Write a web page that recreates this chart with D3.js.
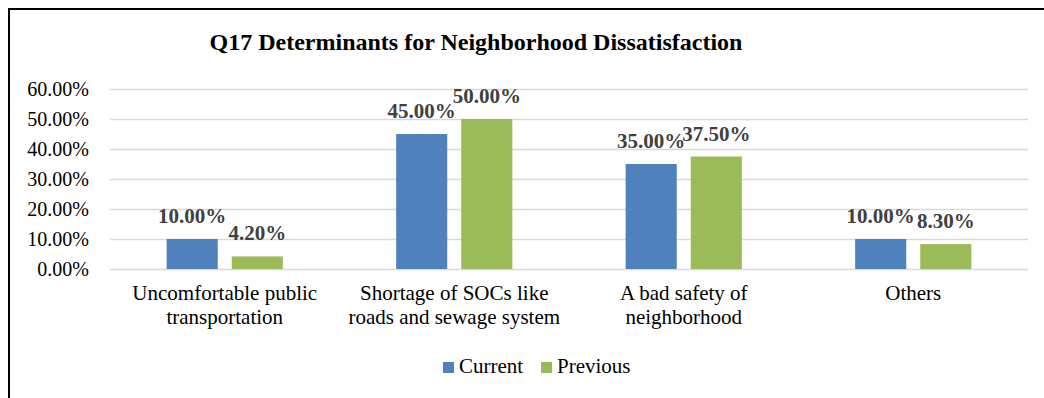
<!DOCTYPE html>
<html>
<head>
<meta charset="utf-8">
<script src="https://cdn.jsdelivr.net/npm/d3@7"></script>
<style>
  body { margin: 0; background: #fff; }
  svg text { font-family: "Liberation Serif", "Times New Roman", serif; }
</style>
</head>
<body>
<svg id="chart" width="1044" height="398"></svg>
<script>
const categories = [
  ["Uncomfortable public", "transportation"],
  ["Shortage of SOCs like", "roads and sewage system"],
  ["A bad safety of", "neighborhood"],
  ["Others"]
];
const seriesNames = ["Current", "Previous"];
const currentValues = [0.10, 0.45, 0.35, 0.10];
const previousValues = [0.042, 0.50, 0.375, 0.083];
const yTicks = [0, 0.1, 0.2, 0.3, 0.4, 0.5, 0.6];
const colors = { Current: "#4f81bd", Previous: "#9bbb59" };

const svg = d3.select("#chart");

// frame (only top and left edges are visible in the crop)
svg.append("line").attr("x1", 9).attr("x2", 1044).attr("y1", 9).attr("y2", 9)
  .attr("stroke", "#000").attr("stroke-width", 2);
svg.append("line").attr("x1", 9).attr("x2", 9).attr("y1", 8).attr("y2", 398)
  .attr("stroke", "#000").attr("stroke-width", 2);

const plot = { left: 110, right: 1028, top: 89, bottom: 269 };

const catIdx = categories.map((d, i) => i);
const x0 = d3.scaleBand().domain(catIdx).range([plot.left, plot.right]);
const x1 = d3.scaleBand().domain(seriesNames).range([0, x0.bandwidth()])
  .paddingInner(0.215).paddingOuter(0.87);
const y = d3.scaleLinear().domain([0, 0.6]).range([plot.bottom, plot.top]);

const fmt = d3.format(".2%");

// gridlines
svg.append("g")
  .selectAll("line")
  .data(yTicks)
  .join("line")
  .attr("x1", plot.left).attr("x2", plot.right)
  .attr("y1", d => Math.round(y(d)) + 0.5).attr("y2", d => Math.round(y(d)) + 0.5)
  .attr("stroke", "#d9d9d9").attr("stroke-width", 1.5);

// y tick labels
svg.append("g")
  .selectAll("text")
  .data(yTicks)
  .join("text")
  .attr("x", 89)
  .attr("y", d => y(d))
  .attr("dy", "0.35em")
  .attr("text-anchor", "end")
  .attr("font-size", 20)
  .attr("fill", "#000")
  .text(d => fmt(d));

// title
svg.append("text")
  .attr("x", 476).attr("y", 50)
  .attr("text-anchor", "middle")
  .attr("font-size", 24).attr("font-weight", "bold")
  .attr("fill", "#000")
  .text("Q17 Determinants for Neighborhood Dissatisfaction");

const rows = catIdx.map(i => ({
  i,
  vals: [
    { key: "Current", value: currentValues[i] },
    { key: "Previous", value: previousValues[i] }
  ]
}));

const groups = svg.append("g")
  .selectAll("g")
  .data(rows)
  .join("g")
  .attr("transform", d => `translate(${x0(d.i)},0)`);

groups.selectAll("rect")
  .data(d => d.vals)
  .join("rect")
  .attr("x", d => x1(d.key))
  .attr("width", x1.bandwidth())
  .attr("y", d => y(d.value))
  .attr("height", d => y(0) - y(d.value))
  .attr("fill", d => colors[d.key]);

groups.selectAll("text.val")
  .data(d => d.vals)
  .join("text")
  .attr("class", "val")
  .attr("x", d => x1(d.key) + x1.bandwidth() / 2)
  .attr("y", d => y(d.value) - 16)
  .attr("text-anchor", "middle")
  .attr("font-size", 21).attr("font-weight", "bold")
  .attr("fill", "#404040")
  .text(d => fmt(d.value));

// category labels
const catLabels = svg.append("g")
  .selectAll("text")
  .data(rows)
  .join("text")
  .attr("x", d => x0(d.i) + x0.bandwidth() / 2)
  .attr("y", 300)
  .attr("text-anchor", "middle")
  .attr("font-size", 21)
  .attr("fill", "#000");

catLabels.selectAll("tspan")
  .data(d => categories[d.i])
  .join("tspan")
  .attr("x", function () { return this.parentNode.getAttribute("x"); })
  .attr("dy", (d, k) => k === 0 ? 0 : 24)
  .text(d => d);

// legend
const legendX = [443, 541];
const legend = svg.append("g")
  .selectAll("g")
  .data(seriesNames)
  .join("g")
  .attr("transform", (d, k) => `translate(${legendX[k]},362)`);

legend.append("rect")
  .attr("width", 11).attr("height", 11)
  .attr("fill", d => colors[d]);

legend.append("text")
  .attr("x", 16).attr("y", 11)
  .attr("font-size", 21)
  .attr("fill", "#000")
  .text(d => d);
</script>
</body>
</html>
